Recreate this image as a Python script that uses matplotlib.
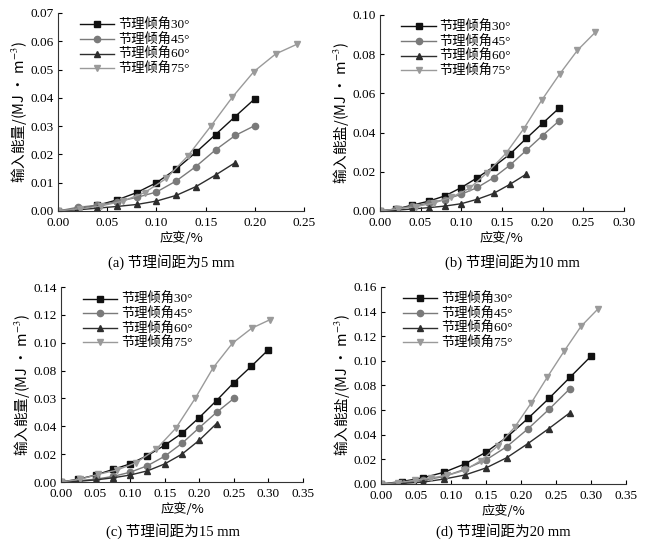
import matplotlib.pyplot as plt

plt.rcParams['font.family'] = ['Liberation Serif', 'Noto Sans CJK SC']
plt.rcParams['mathtext.fontset'] = 'stix'

labels = ["节理倾角30°", "节理倾角45°", "节理倾角60°", "节理倾角75°"]
colors = ["#111111", "#7a7a7a", "#2e2e2e", "#9a9a9a"]
markers = ["s", "o", "^", "v"]

# (a) 5 mm
a_x30 = [0, 0.02, 0.04, 0.06, 0.08, 0.10, 0.12, 0.14, 0.16, 0.18, 0.20]
a_y30 = [0, 0.0008, 0.002, 0.0039, 0.0065, 0.0100, 0.0148, 0.0207, 0.0270, 0.0334, 0.0397]
a_x45 = [0, 0.02, 0.04, 0.06, 0.08, 0.10, 0.12, 0.14, 0.16, 0.18, 0.20]
a_y45 = [0, 0.0013, 0.0020, 0.0033, 0.0048, 0.0067, 0.0106, 0.0157, 0.0216, 0.0267, 0.0302]
a_x60 = [0, 0.02, 0.04, 0.06, 0.08, 0.10, 0.12, 0.14, 0.16, 0.18]
a_y60 = [0, 0.0004, 0.0010, 0.0016, 0.0023, 0.0035, 0.0055, 0.0086, 0.0127, 0.0171]
a_x75 = [0, 0.022, 0.044, 0.066, 0.088, 0.110, 0.132, 0.155, 0.177, 0.199, 0.221, 0.243]
a_y75 = [0, 0.0008, 0.0018, 0.0035, 0.0065, 0.0115, 0.0195, 0.0299, 0.0402, 0.0493, 0.0555, 0.0590]

# (b) 10 mm
b_x30 = [0, 0.02, 0.04, 0.06, 0.08, 0.10, 0.12, 0.14, 0.16, 0.18, 0.20, 0.22]
b_y30 = [0, 0.001, 0.003, 0.005, 0.0077, 0.0119, 0.0170, 0.0226, 0.0290, 0.0370, 0.0447, 0.0523]
b_x45 = [0, 0.02, 0.04, 0.06, 0.08, 0.10, 0.12, 0.14, 0.16, 0.18, 0.20, 0.22]
b_y45 = [0, 0.001, 0.0025, 0.004, 0.0058, 0.0085, 0.0120, 0.0170, 0.0234, 0.0309, 0.0385, 0.0458]
b_x60 = [0, 0.02, 0.04, 0.06, 0.08, 0.10, 0.12, 0.14, 0.16, 0.18]
b_y60 = [0, 0.0004, 0.0010, 0.0017, 0.0025, 0.0037, 0.0060, 0.0090, 0.0136, 0.0188]
b_x75 = [0, 0.022, 0.044, 0.066, 0.088, 0.110, 0.132, 0.155, 0.177, 0.199, 0.221, 0.243, 0.265]
b_y75 = [0, 0.001, 0.0022, 0.004, 0.007, 0.0115, 0.0195, 0.0294, 0.0420, 0.0565, 0.0698, 0.0820, 0.0912]

# (c) 15 mm
c_x30 = [0, 0.025, 0.05, 0.075, 0.10, 0.125, 0.15, 0.175, 0.20, 0.225, 0.25, 0.275, 0.30]
c_y30 = [0, 0.002, 0.005, 0.009, 0.013, 0.019, 0.0264, 0.035, 0.0463, 0.0585, 0.0714, 0.083, 0.095]
c_x45 = [0, 0.025, 0.05, 0.075, 0.10, 0.125, 0.15, 0.175, 0.20, 0.225, 0.25]
c_y45 = [0, 0.001, 0.002, 0.004, 0.007, 0.0117, 0.0185, 0.0278, 0.039, 0.050, 0.060]
c_x60 = [0, 0.025, 0.05, 0.075, 0.10, 0.125, 0.15, 0.175, 0.20, 0.225]
c_y60 = [0, 0.0005, 0.0015, 0.003, 0.005, 0.008, 0.013, 0.020, 0.030, 0.042]
c_x75 = [0, 0.028, 0.054, 0.081, 0.109, 0.138, 0.166, 0.194, 0.220, 0.248, 0.276, 0.302]
c_y75 = [0, 0.002, 0.0055, 0.0086, 0.014, 0.0237, 0.0386, 0.060, 0.082, 0.0997, 0.1105, 0.1165]

# (d) 20 mm
d_x30 = [0, 0.03, 0.06, 0.09, 0.12, 0.15, 0.18, 0.21, 0.24, 0.27, 0.30]
d_y30 = [0, 0.002, 0.005, 0.0095, 0.0163, 0.0258, 0.038, 0.0532, 0.0694, 0.0865, 0.1036]
d_x45 = [0, 0.03, 0.06, 0.09, 0.12, 0.15, 0.18, 0.21, 0.24, 0.27]
d_y45 = [0, 0.001, 0.003, 0.006, 0.012, 0.0195, 0.0304, 0.0447, 0.0605, 0.0773]
d_x60 = [0, 0.03, 0.06, 0.09, 0.12, 0.15, 0.18, 0.21, 0.24, 0.27]
d_y60 = [0, 0.0005, 0.0015, 0.004, 0.0073, 0.013, 0.0214, 0.0328, 0.045, 0.0578]
d_x75 = [0, 0.024, 0.048, 0.072, 0.095, 0.119, 0.143, 0.167, 0.191, 0.215, 0.238, 0.262, 0.286, 0.31]
d_y75 = [0, 0.001, 0.003, 0.005, 0.007, 0.011, 0.019, 0.031, 0.046, 0.066, 0.087, 0.108, 0.128, 0.142]

panels = [
    dict(pos=[0.0898, 0.6136, 0.381, 0.3626], xmax=0.25, xstep=0.05, ymax=0.07, ystep=0.01,
         ylab="输入能量/(MJ · m$^{-3}$)", cap="(a) 节理间距为5 mm", capx=171 / 646, capy=1 - 262 / 546,
         data=[(a_x30, a_y30), (a_x45, a_y45), (a_x60, a_y60), (a_x75, a_y75)]),
    dict(pos=[0.588, 0.6136, 0.3777, 0.359], xmax=0.30, xstep=0.05, ymax=0.10, ystep=0.02,
         ylab="输入能盐/(MJ · m$^{-3}$)", cap="(b) 节理间距为10 mm", capx=512 / 646, capy=1 - 262 / 546,
         data=[(b_x30, b_y30), (b_x45, b_y45), (b_x60, b_y60), (b_x75, b_y75)]),
    dict(pos=[0.0944, 0.1172, 0.3746, 0.357], xmax=0.35, xstep=0.05, ymax=0.14, ystep=0.02,
         ylab="输入能量/(MJ · m$^{-3}$)", cap="(c) 节理间距为15 mm", capx=173 / 646, capy=1 - 531 / 546,
         data=[(c_x30, c_y30), (c_x45, c_y45), (c_x60, c_y60), (c_x75, c_y75)]),
    dict(pos=[0.5898, 0.1136, 0.379, 0.361], xmax=0.35, xstep=0.05, ymax=0.16, ystep=0.02,
         ylab="输入能盐/(MJ · m$^{-3}$)", cap="(d) 节理间距为20 mm", capx=503 / 646, capy=1 - 531 / 546,
         data=[(d_x30, d_y30), (d_x45, d_y45), (d_x60, d_y60), (d_x75, d_y75)]),
]

c_ticklabels = ["0.00", "0.02", "0.04", "0.03", "0.08", "0.10", "0.12", "0.14"]

fig = plt.figure(figsize=(6.46, 5.46), dpi=100)

for i, p in enumerate(panels):
    ax = fig.add_axes(p["pos"])
    for (xs, ys), lab, col, mk in zip(p["data"], labels, colors, markers):
        ax.plot(xs, ys, color=col, marker=mk, markersize=4.5, linewidth=1.0, label=lab)
    ax.set_xlim(0, p["xmax"])
    ax.set_ylim(0, p["ymax"])
    nx = int(round(p["xmax"] / p["xstep"])) + 1
    ny = int(round(p["ymax"] / p["ystep"])) + 1
    xt = [k * p["xstep"] for k in range(nx)]
    yt = [k * p["ystep"] for k in range(ny)]
    ax.set_xticks(xt)
    ax.set_xticklabels(["%.2f" % v for v in xt])
    ax.set_yticks(yt)
    if i == 2:
        ax.set_yticklabels(c_ticklabels)
    else:
        ax.set_yticklabels(["%.2f" % v for v in yt])
    ax.tick_params(direction="in", length=3, width=0.8, labelsize=9.5)
    ax.tick_params(axis="x", pad=4)
    ax.tick_params(axis="y", pad=3)
    ax.spines["top"].set_visible(False)
    ax.spines["right"].set_visible(False)
    for s in ["left", "bottom"]:
        ax.spines[s].set_linewidth(0.8)
        ax.spines[s].set_color("#333333")
    ax.set_ylabel(p["ylab"], fontsize=10.5, labelpad=1,
                  family=['Noto Sans CJK SC', 'DejaVu Sans'])
    ax.set_xlabel("应变/%", fontsize=9.5, family=['Noto Sans CJK SC', 'DejaVu Sans'], labelpad=2)
    ax.legend(loc="upper left", bbox_to_anchor=(0.04, 1.03), frameon=False,
              handlelength=2.6, handletextpad=0.3, labelspacing=0.12,
              prop={'family': ['Liberation Serif', 'Noto Sans CJK SC'], 'size': 9.5})
    fig.text(p["capx"], p["capy"], p["cap"], ha="center", va="center", fontsize=10.5)

fig.savefig("out.png", dpi=100)
